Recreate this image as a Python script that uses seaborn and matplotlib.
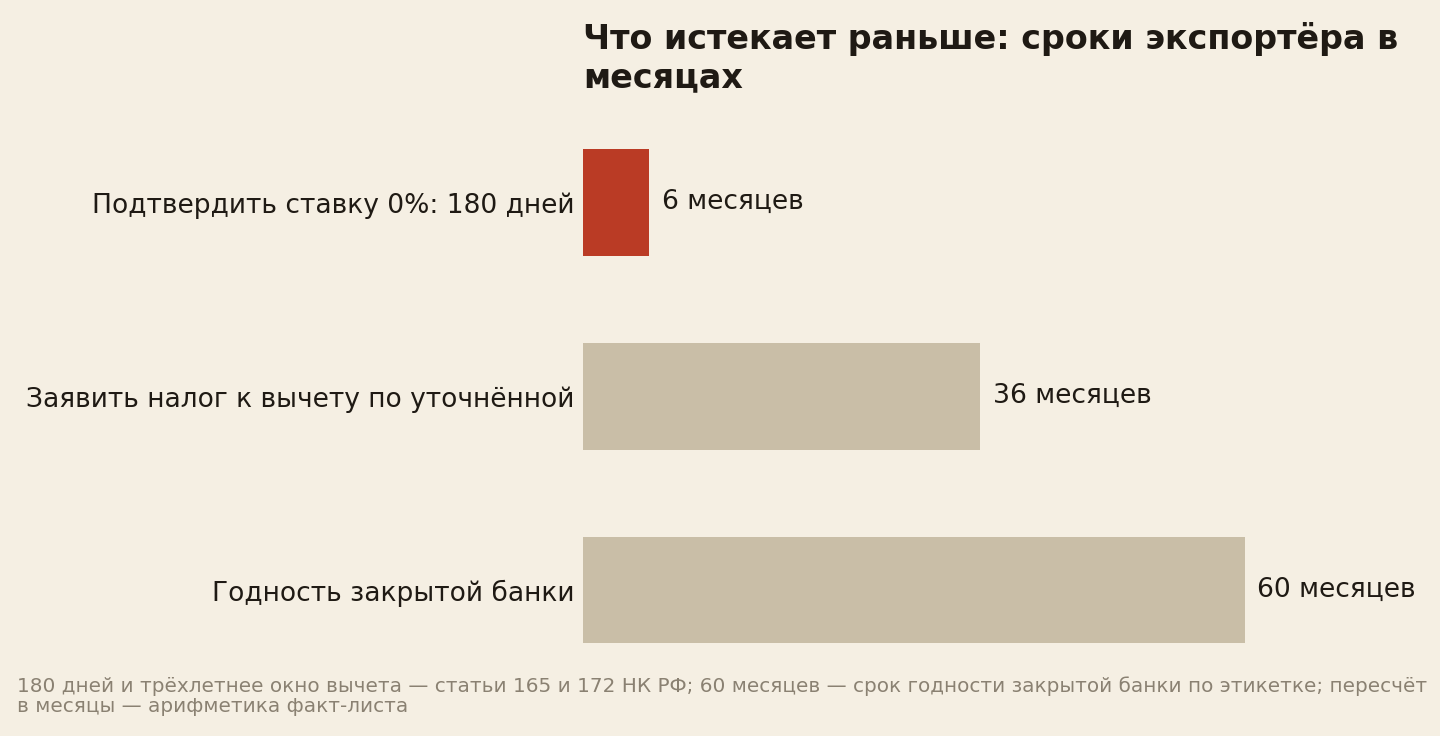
import matplotlib
matplotlib.use("Agg")
import matplotlib.pyplot as plt
import seaborn as sns
import pandas as pd

categories = [
    "Подтвердить ставку 0%: 180 дней",
    "Заявить налог к вычету по уточнённой",
    "Годность закрытой банки",
]
months = [6, 36, 60]
value_labels = ["6 месяцев", "36 месяцев", "60 месяцев"]
bar_colors = ["#BA3B25", "#C9BEA7", "#C9BEA7"]
title = "Что истекает раньше: сроки экспортёра в\nмесяцах"
footnote = ("180 дней и трёхлетнее окно вычета — статьи 165 и 172 НК РФ; 60 месяцев — срок годности закрытой банки по этикетке; пересчёт\n"
            "в месяцы — арифметика факт-листа")

BG = "#F5EFE3"
TXT = "#1F1A14"

sns.set_theme(style="white")
plt.rcParams["font.family"] = ["DejaVu Sans"]

df = pd.DataFrame({"cat": categories, "val": months})

fig = plt.figure(figsize=(14.4, 7.36), dpi=100, facecolor=BG)
ax = fig.add_axes([583/1440, 1 - 687/736, (1425 - 583)/1440, (687 - 105.5)/736])
ax.set_facecolor(BG)

sns.barplot(data=df, x="val", y="cat", hue="cat", palette=bar_colors,
            width=0.55, legend=False, ax=ax, saturation=1, linewidth=0)

ax.set_xlim(0, (1425 - 583) / 11.03)
ax.set_ylim(2.5, -0.5)
ax.set_xlabel("")
ax.set_ylabel("")
ax.set_xticks([])
for s in ax.spines.values():
    s.set_visible(False)
ax.tick_params(axis="y", length=0, pad=6, labelsize=19.1, labelcolor=TXT)

for cont, lab in zip(ax.containers, value_labels):
    ax.bar_label(cont, labels=[lab], padding=9, fontsize=19.1, color=TXT)

fig.text(583/1440, 1 - 22/736, title, ha="left", va="top", fontsize=24,
         fontweight="bold", color=TXT, linespacing=1.2)
fig.text(17/1440, 1 - 676/736, footnote, ha="left", va="top", fontsize=14.4,
         color="#8A8172", linespacing=1.12)

fig.savefig("out.png", dpi=100, facecolor=BG)
